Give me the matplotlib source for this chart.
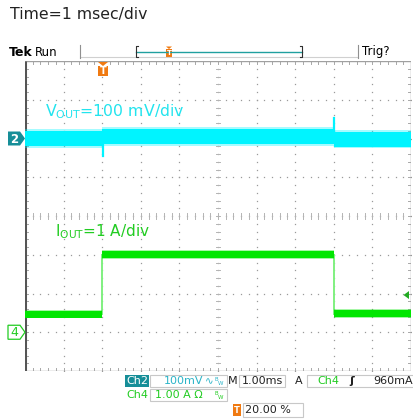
import matplotlib.pyplot as plt
from matplotlib.patches import Rectangle, Polygon
import numpy as np

plt.rcParams['font.family'] = ['DejaVu Sans']
plt.rcParams['mathtext.default'] = 'regular'

# timebase 1 ms/div, trigger at 20 % -> screen spans -2 .. 8 ms
t_edges = [-2.0, 0.0, 6.0, 8.0]          # ms: load step on at 0, off at 6
vout_levels = [0.0, 5.0, -2.0]           # mV (AC coupled), per segment
vout_noise = 19.0                        # mV, half width of noise band
vout_spike_t = [0.02, 6.0]               # ms
vout_spike = [-45.0, 52.0]               # mV
iout_levels = [0.47, 2.0, 0.48]          # A, per segment
iout_noise = 0.09                        # A
trig_level = 0.96                        # A

ch2_pos, ch2_scale = 6.0, 100.0          # div offset, mV/div
ch4_pos, ch4_scale = 1.0, 1.0            # div offset, A/div

CYAN = '#00f4ff'
CYAN_TXT = '#22e4ee'
GREEN = '#00e600'
GREEN_TXT = '#22cc22'
TEAL = '#168e98'
ORANGE = '#f07a12'

fig = plt.figure(figsize=(4.14, 4.19), dpi=100)
W, H = 414, 419
L, R, T, B = 25, 411, 61, 371
ax = fig.add_axes([L / W, 1 - B / H, (R - L) / W, (B - T) / H])
ax.set_xlim(0, 10)
ax.set_ylim(0, 8)
ax.axis('off')

# graticule dots
dots = np.arange(0, 8.01, 0.2)
for i in range(1, 10):
    ax.plot(np.full_like(dots, i), dots, ls='none', marker='s', ms=0.9,
            mec='none', mfc='#9a9a9a', zorder=1)
dots = np.arange(0, 10.01, 0.2)
for j in range(1, 8):
    ax.plot(dots, np.full_like(dots, j), ls='none', marker='s', ms=0.9,
            mec='none', mfc='#9a9a9a', zorder=1)

# centre cross ticks
for y in np.arange(0, 8.01, 0.2):
    ax.plot([4.94, 5.06], [y, y], color='#b4b4b4', lw=0.7, zorder=1)
for x in np.arange(0, 10.01, 0.2):
    ax.plot([x, x], [3.93, 4.07], color='#b4b4b4', lw=0.7, zorder=1)

# border with inward ticks
for x in np.arange(0, 10.01, 0.2):
    ax.plot([x, x], [7.92, 8.0], color='#a8a8a8', lw=0.7, zorder=1)
    ax.plot([x, x], [0.0, 0.08], color='#a8a8a8', lw=0.7, zorder=1)
for y in np.arange(0, 8.01, 0.2):
    ax.plot([0, 0.08], [y, y], color='#a8a8a8', lw=0.7, zorder=1)
    ax.plot([9.92, 10], [y, y], color='#a8a8a8', lw=0.7, zorder=1)
ax.plot([0, 10, 10, 0], [8, 8, 0, 0], color='#a0a0a0', lw=1.0, zorder=1)
ax.plot([0, 0], [0, 8], color='#555555', lw=2.2, zorder=1, solid_capstyle='butt')


def tdiv(t):
    return t + 2.0


def band(levels, half, pos, scale, color):
    for k, lv in enumerate(levels):
        x0, x1 = tdiv(t_edges[k]), tdiv(t_edges[k + 1])
        c = pos + lv / scale
        h = half / scale
        ax.fill_between([x0, x1], c - 1.25 * h, c + 1.25 * h, color=color,
                        alpha=0.35, lw=0, zorder=3)
        ax.fill_between([x0, x1], c - h, c + h, color=color, lw=0, zorder=3)


# Vout trace
band(vout_levels, vout_noise, ch2_pos, ch2_scale, CYAN)
for ts, vs, k in zip(vout_spike_t, vout_spike, [1, 2]):
    ax.plot([tdiv(ts), tdiv(ts)], [ch2_pos + vout_levels[k - 1] / ch2_scale,
                                   ch2_pos + vs / ch2_scale],
            color=CYAN, lw=1.6, zorder=3)

# Iout trace
band(iout_levels, iout_noise, ch4_pos, ch4_scale, GREEN)
for k in [1, 2]:
    ax.plot([tdiv(t_edges[k])] * 2,
            [ch4_pos + iout_levels[k - 1] / ch4_scale,
             ch4_pos + iout_levels[k] / ch4_scale],
            color='#80f080', lw=1.4, zorder=2)

# labels inside graticule
ax.text(tdiv(-1.48), 6.7, r'V$_{OUT}$=100 mV/div', color=CYAN_TXT,
        fontsize=11.3, va='center', ha='left', zorder=4)
ax.text(tdiv(-1.23), 3.6, r'I$_{OUT}$=1 A/div', color=GREEN_TXT,
        fontsize=11, va='center', ha='left', zorder=4)

# overlay in pixel coordinates
ov = fig.add_axes([0, 0, 1, 1], zorder=5)
ov.set_xlim(0, W)
ov.set_ylim(H, 0)
ov.axis('off')

ov.text(10, 15, 'Time=1 msec/div', fontsize=11.3, va='center', ha='left',
        color='#222222')

# top status bar
ov.text(9, 52.5, 'Tek', fontsize=9, weight='bold', va='center', ha='left')
ov.text(35, 52, 'Run', fontsize=8.5, va='center', ha='left')
ov.plot([80, 358], [57.5, 57.5], color='#d0d0d0', lw=0.8)
ov.plot([80, 80], [45, 58], color='#909090', lw=0.8)
ov.plot([358, 358], [45, 58], color='#909090', lw=0.8)
ov.plot([136, 302], [52, 52], color='#20a0a0', lw=1.0)
for xb, d in [(136.5, 2), (302, -2)]:
    ov.plot([xb + d, xb, xb, xb + d], [46, 46, 57, 57], color='#303030', lw=0.8)
ov.add_patch(Rectangle((166, 49), 6, 8, color=ORANGE, lw=0))
ov.add_patch(Polygon([[166, 46.5], [172, 46.5], [169, 49]], color=ORANGE, lw=0))
ov.text(169, 53.3, 'T', fontsize=5, color='white', ha='center', va='center',
        weight='bold')
ov.text(362, 52, 'Trig?', fontsize=8.5, va='center', ha='left')

# trigger position marker
ov.add_patch(Polygon([[98, 62], [108, 62], [103, 66]], color=ORANGE, lw=0))
ov.add_patch(Rectangle((98, 66), 10, 10, color=ORANGE, lw=0))
ov.text(103, 71.3, 'T', fontsize=7, color='white', ha='center', va='center',
        weight='bold')

# channel ground markers
y2 = B - ch2_pos * (B - T) / 8
ov.add_patch(Polygon([[8, y2 - 7], [20, y2 - 7], [25, y2], [20, y2 + 7],
                      [8, y2 + 7]], color=TEAL, lw=0))
ov.text(14, y2 + 0.5, '2', color='white', fontsize=8.5, weight='bold',
        ha='center', va='center')
y4 = B - ch4_pos * (B - T) / 8
ov.add_patch(Polygon([[8, y4 - 7], [20, y4 - 7], [25, y4], [20, y4 + 7],
                      [8, y4 + 7]], facecolor='white', edgecolor=GREEN_TXT,
                     lw=0.9))
ov.text(14, y4 + 0.5, '4', color=GREEN_TXT, fontsize=9, ha='center',
        va='center')

# trigger level arrow
yt = B - (ch4_pos + trig_level / ch4_scale) * (B - T) / 8
ov.add_patch(Polygon([[403.5, yt], [409, yt - 4], [409, yt + 4]],
                     color='#22aa22', lw=0))

# readout rows
ov.add_patch(Rectangle((125, 375), 24, 12, color=TEAL, lw=0))
ov.text(137, 381.3, 'Ch2', color='white', fontsize=8, ha='center', va='center')
for (x0, y0, w, h) in [(150, 375, 77, 12), (150, 389, 77, 12),
                       (239, 375, 46, 12), (307, 375, 110, 12),
                       (243, 403, 60, 14)]:
    ov.add_patch(Rectangle((x0, y0), w, h, fill=False, edgecolor='#c8c8c8',
                           lw=0.8))
ov.text(203, 381.3, '100mV', color='#2ab4c8', fontsize=8, ha='right',
        va='center')
ov.text(205, 381.3, '∿', color='#2ab4c8', fontsize=7.5, ha='left',
        va='center')
ov.text(215, 379, 'B', color='#2ab4c8', fontsize=4, ha='left', va='center')
ov.text(218, 383, 'W', color='#2ab4c8', fontsize=4, ha='left', va='center')
ov.text(233, 381.3, 'M', color='#222222', fontsize=8, ha='center',
        va='center')
ov.text(242, 381.3, '1.00ms', color='#222222', fontsize=8, ha='left',
        va='center')
ov.text(299, 381.3, 'A', color='#222222', fontsize=8, ha='center',
        va='center')
ov.text(317, 381.3, 'Ch4', color=GREEN_TXT, fontsize=8, ha='left',
        va='center')
ov.text(352, 381.3, 'ʃ', color='#222222', fontsize=8, ha='center',
        va='center', weight='bold')
ov.text(413, 381.3, '960mA', color='#222222', fontsize=8, ha='right',
        va='center')

ov.text(126, 395.3, 'Ch4', color=GREEN_TXT, fontsize=8, ha='left',
        va='center')
ov.text(203, 395.3, '1.00 A Ω', color=GREEN_TXT, fontsize=8, ha='right',
        va='center')
ov.text(215, 393, 'B', color=GREEN_TXT, fontsize=4, ha='left', va='center')
ov.text(218, 397, 'W', color=GREEN_TXT, fontsize=4, ha='left', va='center')

ov.add_patch(Rectangle((233, 404), 8, 12, color=ORANGE, lw=0))
ov.text(237, 410.3, 'T', color='white', fontsize=6, ha='center', va='center',
        weight='bold')
ov.text(245, 410.3, '20.00 %', color='#222222', fontsize=8, ha='left',
        va='center')

fig.savefig('out.png', dpi=100)
